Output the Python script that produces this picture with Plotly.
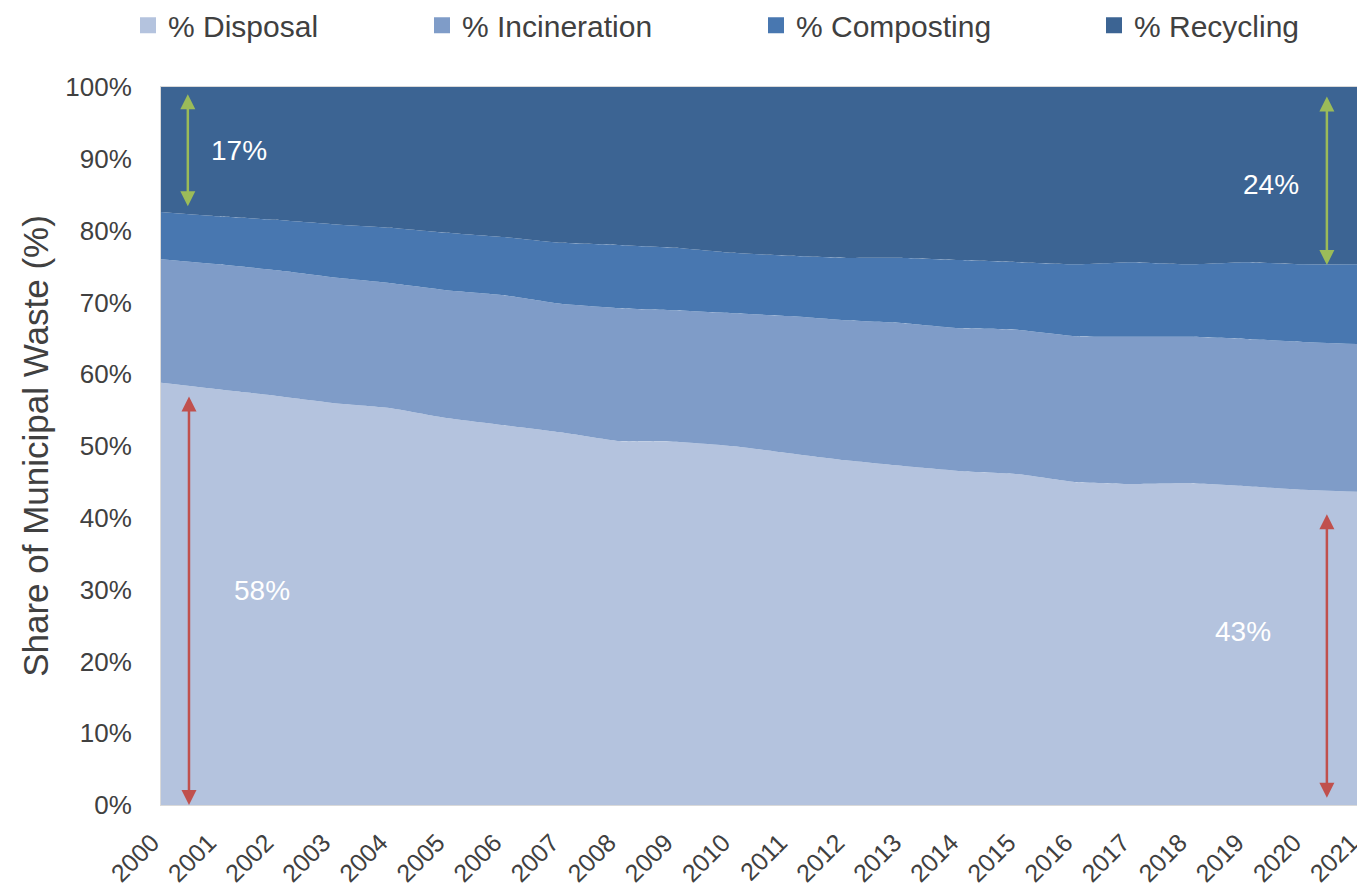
import plotly.graph_objects as go

years = list(range(2000, 2022))
disposal = [58.8, 57.9, 57.0, 56.0, 55.3, 53.9, 52.9, 51.9, 50.7, 50.6, 50.0,
            49.0, 48.0, 47.2, 46.5, 46.1, 45.0, 44.7, 44.8, 44.4, 43.9, 43.6]
incineration = [17.2, 17.4, 17.5, 17.5, 17.4, 17.8, 18.1, 17.9, 18.5, 18.3, 18.5,
                19.1, 19.5, 19.9, 19.9, 20.1, 20.3, 20.5, 20.4, 20.5, 20.6, 20.6]
composting = [6.6, 6.7, 7.0, 7.4, 7.7, 8.0, 8.1, 8.5, 8.8, 8.7, 8.4,
              8.4, 8.7, 9.1, 9.5, 9.4, 10.0, 10.4, 10.1, 10.7, 10.8, 11.1]
recycling = [17.4, 18.0, 18.5, 19.1, 19.6, 20.3, 20.9, 21.7, 22.0, 22.4, 23.1,
             23.5, 23.8, 23.8, 24.1, 24.4, 24.7, 24.4, 24.7, 24.4, 24.7, 24.7]

series_names = ["% Disposal", "% Incineration", "% Composting", "% Recycling"]
series_values = [disposal, incineration, composting, recycling]
colors = ["#B4C3DE", "#7F9CC8", "#4877B0", "#3C6493"]
y_ticks = list(range(0, 101, 10))

FONT = "Liberation Sans, Arial"
TXT = "#404040"

fig = go.Figure()
for name, vals, col in zip(series_names, series_values, colors):
    fig.add_trace(go.Scatter(
        x=years, y=vals, name=name, stackgroup="one", mode="lines",
        line=dict(width=0, color=col, shape="spline", smoothing=0.4),
        fillcolor=col, showlegend=False, hoverinfo="x+y+name"))

legend_names = ["legend", "legend2", "legend3", "legend4"]
legend_px = [128, 422, 756, 1094]
for name, col, lg in zip(series_names, colors, legend_names):
    fig.add_trace(go.Scatter(
        x=[None], y=[None], mode="markers", name=name, legend=lg,
        marker=dict(symbol="square", size=22, color=col), showlegend=True))

# page body has an 8px margin; compensate so the plot area lands at 161..1360 x 87..805
OFF = 8
plot_l, plot_r, plot_t, plot_b = 161, 1360, 87, 805
W, H = 1365 - OFF, 891 - OFF
layout_legends = {}
for lg, px in zip(legend_names, legend_px):
    layout_legends[lg] = dict(
        x=(px - plot_l) / (plot_r - plot_l), y=1.086, xanchor="left", yanchor="middle",
        orientation="h", font=dict(family=FONT, size=30, color=TXT),
        bgcolor="rgba(0,0,0,0)", itemsizing="trace")

# arrows
arrows = [
    (2000.47, 99.2, 2000.47, 83.4, "#9BBB59"),
    (2020.42, 98.9, 2020.42, 75.2, "#9BBB59"),
    (2000.49, 57.1, 2000.49, 0.0, "#C0504D"),
    (2020.42, 40.7, 2020.42, 1.0, "#C0504D"),
]
annotations = []
for x0, y0, x1, y1, c in arrows:
    annotations.append(dict(
        x=x1, y=y1, ax=x0, ay=y0, xref="x", yref="y", axref="x", ayref="y",
        text="", showarrow=True, arrowside="end+start", arrowhead=2, startarrowhead=2,
        arrowsize=1.2, startarrowsize=1.2, arrowwidth=2.5, arrowcolor=c))

labels = [(2001.37, 91.1, "17%"), (2001.77, 29.9, "58%"),
          (2019.44, 86.4, "24%"), (2018.95, 24.2, "43%")]
for x, y, t in labels:
    annotations.append(dict(x=x, y=y, xref="x", yref="y", text=t, showarrow=False,
                            font=dict(family=FONT, size=28, color="white")))

fig.update_layout(
    width=W, height=H,
    margin=dict(l=plot_l - OFF, r=W + OFF - plot_r, t=plot_t - OFF, b=H + OFF - plot_b,
                autoexpand=False),
    paper_bgcolor="white", plot_bgcolor="white",
    annotations=annotations,
    **layout_legends,
)
fig.update_xaxes(range=[2000, 2021], tickmode="array", tickvals=years,
                 ticktext=[str(y) for y in years], tickangle=-45,
                 tickfont=dict(family=FONT, size=25, color=TXT),
                 ticklabeloverflow="allow", automargin=False,
                 ticklabelstandoff=12, ticklabelshift=-9,
                 showgrid=False, zeroline=False, showline=True, linecolor="#D9D9D9",
                 linewidth=1, mirror=True, ticks="")
fig.update_yaxes(range=[0, 100], tickmode="array", tickvals=y_ticks,
                 ticktext=[f"{v}%" for v in y_ticks], ticklabelstandoff=23,
                 tickfont=dict(family=FONT, size=26, color=TXT), automargin=False,
                 title=dict(text="Share of Municipal Waste (%)",
                            font=dict(family=FONT, size=35, color=TXT), standoff=6),
                 showgrid=False, zeroline=False, showline=True, linecolor="#D9D9D9",
                 linewidth=1, mirror=True, ticks="")

fig.write_html("out.html")
